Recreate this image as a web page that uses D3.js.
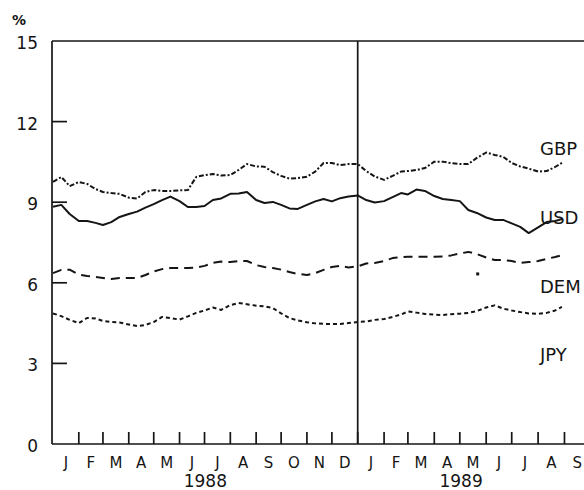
<!DOCTYPE html>
<html>
<head>
<meta charset="utf-8">
<title>Short-term interest rates 1988-1989</title>
<script src="https://d3js.org/d3.v7.min.js"></script>
<style>
  body { margin: 0; background: #fff; }
  text { font-family: "DejaVu Sans", sans-serif; fill: #151515; }
</style>
</head>
<body>
<div id="chart"></div>
<script>
// sample dates (1st, 11th, 21st of each month)
const dates = [
  "1988-01-01","1988-01-11","1988-01-21","1988-02-01","1988-02-11","1988-02-21",
  "1988-03-01","1988-03-11","1988-03-21","1988-04-01","1988-04-11","1988-04-21",
  "1988-05-01","1988-05-11","1988-05-21","1988-06-01","1988-06-11","1988-06-21",
  "1988-07-01","1988-07-11","1988-07-21","1988-08-01","1988-08-11","1988-08-21",
  "1988-09-01","1988-09-11","1988-09-21","1988-10-01","1988-10-11","1988-10-21",
  "1988-11-01","1988-11-11","1988-11-21","1988-12-01","1988-12-11","1988-12-21",
  "1989-01-01","1989-01-11","1989-01-21","1989-02-01","1989-02-11","1989-02-21",
  "1989-03-01","1989-03-11","1989-03-21","1989-04-01","1989-04-11","1989-04-21",
  "1989-05-01","1989-05-11","1989-05-21","1989-06-01","1989-06-11","1989-06-21",
  "1989-07-01","1989-07-11","1989-07-21","1989-08-01","1989-08-11","1989-08-21",
  "1989-08-29"
];

const gbp = [
  9.76, 9.94, 9.60, 9.75, 9.68, 9.49, 9.38, 9.34, 9.31, 9.17, 9.14, 9.38,
  9.45, 9.42, 9.42, 9.44, 9.45, 9.94, 10.01, 10.05, 9.99, 10.01, 10.20, 10.42,
  10.33, 10.32, 10.12, 9.98, 9.88, 9.90, 9.95, 10.14, 10.46, 10.46, 10.38, 10.42,
  10.42, 10.16, 9.96, 9.83, 9.98, 10.14, 10.16, 10.20, 10.27, 10.51, 10.51, 10.45,
  10.42, 10.42, 10.65, 10.85, 10.76, 10.69, 10.46, 10.33, 10.25, 10.14, 10.16, 10.31,
  10.46
];

const usd = [
  8.83, 8.90, 8.56, 8.30, 8.30, 8.23, 8.15, 8.26, 8.45, 8.56, 8.65, 8.80,
  8.93, 9.08, 9.21, 9.04, 8.82, 8.82, 8.86, 9.08, 9.14, 9.31, 9.32, 9.38,
  9.08, 8.97, 9.01, 8.90, 8.77, 8.75, 8.90, 9.03, 9.12, 9.03, 9.15, 9.21,
  9.25, 9.08, 8.99, 9.04, 9.19, 9.34, 9.29, 9.47, 9.42, 9.23, 9.12, 9.08,
  9.04, 8.71, 8.60, 8.43, 8.34, 8.34, 8.21, 8.08, 7.85, 8.06, 8.26, 8.30,
  8.37
];

const dem = [
  6.36, 6.48, 6.49, 6.31, 6.25, 6.22, 6.18, 6.14, 6.18, 6.18, 6.18, 6.29,
  6.42, 6.51, 6.55, 6.55, 6.55, 6.57, 6.63, 6.74, 6.79, 6.77, 6.81, 6.81,
  6.66, 6.59, 6.55, 6.49, 6.40, 6.33, 6.29, 6.36, 6.48, 6.59, 6.63, 6.57,
  6.61, 6.72, 6.74, 6.81, 6.92, 6.95, 6.97, 6.97, 6.97, 6.97, 6.98, 7.02,
  7.09, 7.15, 7.07, 6.94, 6.85, 6.85, 6.81, 6.74, 6.77, 6.81, 6.89, 6.96,
  7.03
];

const jpy = [
  4.86, 4.76, 4.62, 4.50, 4.69, 4.67, 4.58, 4.54, 4.52, 4.45, 4.39, 4.43,
  4.54, 4.73, 4.69, 4.63, 4.75, 4.88, 4.97, 5.08, 4.99, 5.17, 5.25, 5.20,
  5.15, 5.12, 5.06, 4.86, 4.69, 4.60, 4.53, 4.49, 4.47, 4.47, 4.47, 4.50,
  4.54, 4.56, 4.62, 4.65, 4.73, 4.82, 4.93, 4.89, 4.84, 4.82, 4.80, 4.83,
  4.85, 4.88, 4.95, 5.08, 5.16, 5.04, 4.97, 4.91, 4.86, 4.84, 4.88, 4.97,
  5.10
];

// stray plotter dot below the DEM line
const demDot = [["1989-05-22", 6.33]];

const seriesNames = ["GBP", "USD", "DEM", "JPY"];
const labelValues = [10.76, 8.19, 5.62, 3.08];   // where each name sits on the y axis
const yTicks = [0, 3, 6, 9, 12, 15];
const monthLetters = ["J","F","M","A","M","J","J","A","S","O","N","D"];
const years = ["1988", "1989"];

const width = 584, height = 490;
const parse = d3.timeParse("%Y-%m-%d");

const svg = d3.select("#chart").append("svg")
    .attr("width", width)
    .attr("height", height);

// the month spacing differs a little between the two years in the original
const x = d3.scaleTime()
    .domain([new Date(1988, 0, 1), new Date(1989, 0, 1), new Date(1989, 9, 1)])
    .range([53, 357.7, 590]);
const y = d3.scaleLinear().domain([0, 15]).range([444, 41]);

const ink = "#151515";
const plotL = 52, plotR = 600, plotT = y(15), plotB = y(0);

// frame
const frame = svg.append("g").attr("stroke", ink).attr("stroke-width", 1.7).attr("fill", "none");
frame.append("line").attr("x1", plotL).attr("x2", plotR).attr("y1", plotT).attr("y2", plotT);
frame.append("line").attr("x1", plotL).attr("x2", plotR).attr("y1", plotB).attr("y2", plotB);
frame.append("line").attr("x1", plotL).attr("x2", plotL).attr("y1", plotT).attr("y2", plotB);
// year divider
frame.append("line")
    .attr("x1", x(new Date(1989, 0, 1))).attr("x2", x(new Date(1989, 0, 1)))
    .attr("y1", plotT).attr("y2", plotB);

// y ticks + labels
frame.append("g").selectAll("line")
    .data(yTicks.filter(d => d > 0 && d < 15))
    .join("line")
    .attr("x1", plotL).attr("x2", plotL + 15)
    .attr("y1", d => y(d)).attr("y2", d => y(d));

svg.append("g").selectAll("text")
    .data(yTicks)
    .join("text")
    .attr("x", 38)
    .attr("y", d => y(d) + 8)
    .attr("text-anchor", "end")
    .attr("font-size", 17)
    .text(d => d);

svg.append("text")
    .attr("x", 12).attr("y", 25)
    .attr("font-size", 14).attr("font-weight", "bold")
    .text("%");

// month ticks
const monthStarts = d3.timeMonth.range(new Date(1988, 1, 1), new Date(1989, 9, 1));
frame.append("g").selectAll("line")
    .data(monthStarts)
    .join("line")
    .attr("x1", d => x(d)).attr("x2", d => x(d))
    .attr("y1", plotB).attr("y2", plotB - 12);

// month letters at mid-month
const allMonths = d3.timeMonth.range(new Date(1988, 0, 1), new Date(1989, 9, 1));
svg.append("g").selectAll("text")
    .data(allMonths)
    .join("text")
    .attr("x", d => (x(d) + x(d3.timeMonth.offset(d, 1))) / 2)
    .attr("y", 468)
    .attr("text-anchor", "middle")
    .attr("font-size", 15)
    .text(d => monthLetters[d.getMonth()]);

svg.append("g").selectAll("text")
    .data(years)
    .join("text")
    .attr("x", (d, i) => i === 0
        ? (x(new Date(1988, 0, 1)) + x(new Date(1989, 0, 1))) / 2
        : (x(new Date(1989, 0, 1)) + x(new Date(1989, 8, 1))) / 2)
    .attr("y", 487)
    .attr("text-anchor", "middle")
    .attr("font-size", 17)
    .text(d => d);

// series
const series = [
  { name: "GBP", values: gbp, dash: "5,2,2,2" },
  { name: "USD", values: usd, dash: null },
  { name: "DEM", values: dem, dash: "9,6" },
  { name: "JPY", values: jpy, dash: "4,3" }
];

const line = d3.line()
    .x((d, i) => x(parse(dates[i])))
    .y(d => y(d));

svg.append("g").selectAll("path")
    .data(series)
    .join("path")
    .attr("fill", "none")
    .attr("stroke", ink)
    .attr("stroke-width", 2)
    .attr("stroke-linejoin", "round")
    .attr("stroke-dasharray", d => d.dash)
    .attr("d", d => line(d.values));

svg.append("g").selectAll("rect")
    .data(demDot)
    .join("rect")
    .attr("x", d => x(parse(d[0])) - 1.5)
    .attr("y", d => y(d[1]) - 1.5)
    .attr("width", 3).attr("height", 3)
    .attr("fill", ink);

// series names
svg.append("g").selectAll("text")
    .data(seriesNames)
    .join("text")
    .attr("x", 540)
    .attr("y", (d, i) => y(labelValues[i]))
    .attr("font-size", 18)
    .text(d => d);
</script>
</body>
</html>
